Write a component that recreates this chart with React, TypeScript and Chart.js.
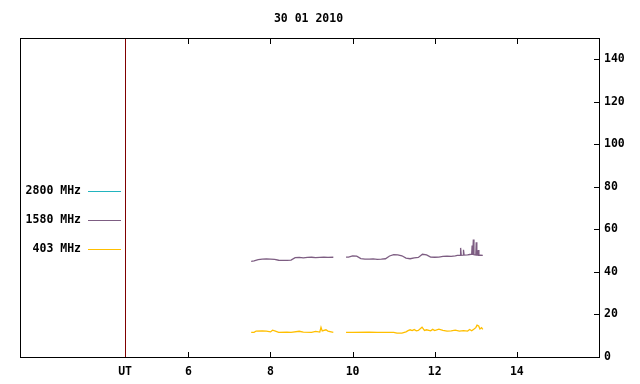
import React, { useEffect, useRef } from 'react';
import { Chart, registerables } from 'chart.js';

Chart.register(...registerables);

const TITLE = '30 01 2010';
const FONT_FAMILY = '"DejaVu Sans Mono", monospace';
const FONT_SIZE = 11.5;

const X_MIN = 1.9;
const X_MAX = 16.0;
const UT_POS = 4.46;
const X_TICKS = [4.46, 6, 8, 10, 12, 14];
const X_TICK_LABELS = ['UT', '6', '8', '10', '12', '14'];
const Y_MIN = 0;
const Y_MAX = 150;
const Y_TICKS = [0, 20, 40, 60, 80, 100, 120, 140];

const SERIES_NAMES = ['2800 MHz', '1580 MHz', '403 MHz'];
const SERIES_COLORS = ['#22b4bf', '#7d5d82', '#ffbf00'];

// 2800 MHz: no data recorded on this day
const T_2800: number[] = [];
const V_2800: number[] = [];

const T_1580 = [
  7.53, 7.6, 7.7, 7.8, 7.9, 8.0, 8.1, 8.2, 8.3, 8.4, 8.5, 8.6, 8.7, 8.8, 8.9, 9.0, 9.1, 9.2, 9.3, 9.4, 9.53,
  9.7,
  9.84, 9.9, 10.0, 10.1, 10.2, 10.3, 10.4, 10.5, 10.6, 10.7, 10.8, 10.9, 11.0, 11.1, 11.2, 11.3, 11.4, 11.5,
  11.6, 11.7, 11.8, 11.9, 12.0, 12.1, 12.2, 12.3, 12.4, 12.5, 12.55, 12.62, 12.63, 12.645, 12.69, 12.70, 12.715,
  12.8, 12.85, 12.9, 12.91, 12.925, 12.94, 12.955, 13.0, 13.01, 13.025, 13.05, 13.06, 13.075, 13.12, 13.17,
];
const V_1580 = [
  45.0, 45.2, 45.8, 46.0, 46.1, 46.0, 45.9, 45.5, 45.4, 45.4, 45.6, 46.7, 46.8, 46.6, 46.8, 46.9, 46.7, 46.8, 46.9, 46.8, 46.9,
  null,
  47.0, 47.0, 47.5, 47.4, 46.3, 46.0, 46.0, 46.1, 45.9, 46.0, 46.2, 47.5, 48.1, 48.0, 47.6, 46.5, 46.2, 46.6,
  46.8, 48.3, 48.0, 47.0, 46.9, 47.0, 47.3, 47.4, 47.3, 47.6, 47.8, 47.8, 51.3, 47.8, 47.9, 50.4, 47.9,
  48.0, 48.2, 48.3, 52.4, 48.0, 55.2, 48.1, 48.0, 53.9, 48.0, 47.9, 50.3, 47.8, 47.9, 47.8,
];

const T_403 = [
  7.53, 7.6, 7.65, 7.8, 7.9, 8.0, 8.05, 8.12, 8.2, 8.4, 8.5, 8.7, 8.8, 9.0, 9.1, 9.2, 9.23, 9.26, 9.35, 9.4, 9.53,
  9.7,
  9.84, 10.0, 10.4, 10.6, 10.8, 11.0, 11.08, 11.2, 11.3, 11.35, 11.4, 11.45, 11.5, 11.55, 11.6, 11.69, 11.75,
  11.8, 11.9, 11.95, 12.0, 12.1, 12.2, 12.3, 12.4, 12.5, 12.6, 12.7, 12.8, 12.85, 12.9, 12.95, 13.0, 13.03,
  13.07, 13.1, 13.14, 13.17,
];
const V_403 = [
  11.6, 11.6, 12.2, 12.3, 12.2, 11.8, 12.6, 12.2, 11.6, 11.7, 11.6, 12.1, 11.7, 11.6, 12.0, 11.7, 14.0, 12.3, 12.8, 12.2, 11.6,
  null,
  11.6, 11.6, 11.7, 11.6, 11.6, 11.6, 11.2, 11.2, 11.8, 12.4, 12.8, 12.4, 12.9, 12.3, 12.5, 14.0, 12.5,
  12.8, 12.3, 13.0, 12.4, 13.1, 12.5, 12.2, 12.3, 12.6, 12.2, 12.4, 12.2, 12.9, 12.3, 13.0, 13.8, 15.0,
  14.6, 13.2, 13.8, 13.0,
];

function toPoints(ts: number[], vs: (number | null)[]) {
  return ts.map((t, i) => ({ x: t, y: vs[i] }));
}

const framePlugin = {
  id: 'framePlugin',
  beforeDatasetsDraw(chart: any) {
    const { ctx, chartArea } = chart;
    const xs = chart.scales.x;
    const px = Math.round(xs.getPixelForValue(UT_POS));
    ctx.save();
    ctx.fillStyle = '#800000';
    ctx.fillRect(px, Math.round(chartArea.top), 1, Math.round(chartArea.bottom - chartArea.top));
    ctx.restore();
  },
  afterDraw(chart: any) {
    const { ctx, chartArea } = chart;
    const xs = chart.scales.x;
    const ys = chart.scales.y;
    const L = Math.round(chartArea.left);
    const R = Math.round(chartArea.right);
    const T = Math.round(chartArea.top);
    const B = Math.round(chartArea.bottom);
    ctx.save();
    ctx.fillStyle = '#000000';
    ctx.fillRect(L, T, R - L + 1, 1);
    ctx.fillRect(L, B, R - L + 1, 1);
    ctx.fillRect(L, T, 1, B - T + 1);
    ctx.fillRect(R, T, 1, B - T + 1);
    const TL = 5;
    X_TICKS.forEach((v, i) => {
      if (i === 0) return;
      const x = Math.round(xs.getPixelForValue(v));
      ctx.fillRect(x, B - TL, 1, TL);
      ctx.fillRect(x, T + 1, 1, TL);
    });
    Y_TICKS.forEach((v) => {
      const y = Math.round(ys.getPixelForValue(v));
      ctx.fillRect(R - TL, y, TL, 1);
    });

    // title
    ctx.fillStyle = '#000000';
    ctx.font = `bold ${FONT_SIZE}px ${FONT_FAMILY}`;
    ctx.textAlign = 'center';
    ctx.textBaseline = 'middle';
    ctx.fillText(TITLE, (chartArea.left + chartArea.right) / 2 - 1, 19);

    // legend
    const legendY = [191, 220, 249];
    SERIES_NAMES.forEach((name, i) => {
      ctx.textAlign = 'right';
      ctx.fillStyle = '#000000';
      ctx.fillText(name, 81, legendY[i]);
      ctx.fillStyle = SERIES_COLORS[i];
      ctx.fillRect(88, legendY[i], 33, 1);
    });
    ctx.restore();
  },
};

export default function App() {
  const ref = useRef<HTMLCanvasElement | null>(null);
  useEffect(() => {
    if (!ref.current) return;
    const chart = new Chart(ref.current, {
      type: 'line',
      data: {
        datasets: [
          { label: SERIES_NAMES[0], data: toPoints(T_2800, V_2800) },
          { label: SERIES_NAMES[1], data: toPoints(T_1580, V_1580) },
          { label: SERIES_NAMES[2], data: toPoints(T_403, V_403) },
        ].map((d, i) => ({
          ...d,
          borderColor: SERIES_COLORS[i],
          backgroundColor: SERIES_COLORS[i],
          borderWidth: 1.3,
          pointRadius: 0,
          tension: 0,
          spanGaps: false,
          fill: false,
        })) as any,
      },
      options: {
        responsive: false,
        animation: false,
        layout: { padding: { left: 20, right: 0, top: 38, bottom: 0 } },
        plugins: {
          legend: { display: false },
          title: { display: false },
          tooltip: { enabled: false },
        },
        scales: {
          x: {
            type: 'linear',
            position: 'bottom',
            min: X_MIN,
            max: X_MAX,
            grid: { display: false, drawTicks: false },
            border: { display: false },
            afterBuildTicks: (scale: any) => {
              scale.ticks = X_TICKS.map((v) => ({ value: v }));
            },
            afterFit: (scale: any) => {
              scale.height = 27;
            },
            ticks: {
              autoSkip: false,
              maxRotation: 0,
              padding: 8,
              color: '#000000',
              font: { family: FONT_FAMILY, size: FONT_SIZE, weight: 'bold' },
              callback: (_v: any, i: number) => X_TICK_LABELS[i],
            },
          },
          y: {
            type: 'linear',
            position: 'right',
            min: Y_MIN,
            max: Y_MAX,
            grid: { display: false, drawTicks: false },
            border: { display: false },
            afterBuildTicks: (scale: any) => {
              scale.ticks = Y_TICKS.map((v) => ({ value: v }));
            },
            afterFit: (scale: any) => {
              scale.width = 41;
            },
            ticks: {
              autoSkip: false,
              padding: 5,
              color: '#000000',
              font: { family: FONT_FAMILY, size: FONT_SIZE, weight: 'bold' },
              callback: (v: any) => String(v),
            },
          },
        },
      },
      plugins: [framePlugin],
    });
    return () => chart.destroy();
  }, []);
  return (
    <div style={{ position: 'absolute', left: 0, top: 0, width: 640, height: 384, background: '#ffffff' }}>
      <canvas ref={ref} width={640} height={384} style={{ width: 640, height: 384 }} />
    </div>
  );
}
